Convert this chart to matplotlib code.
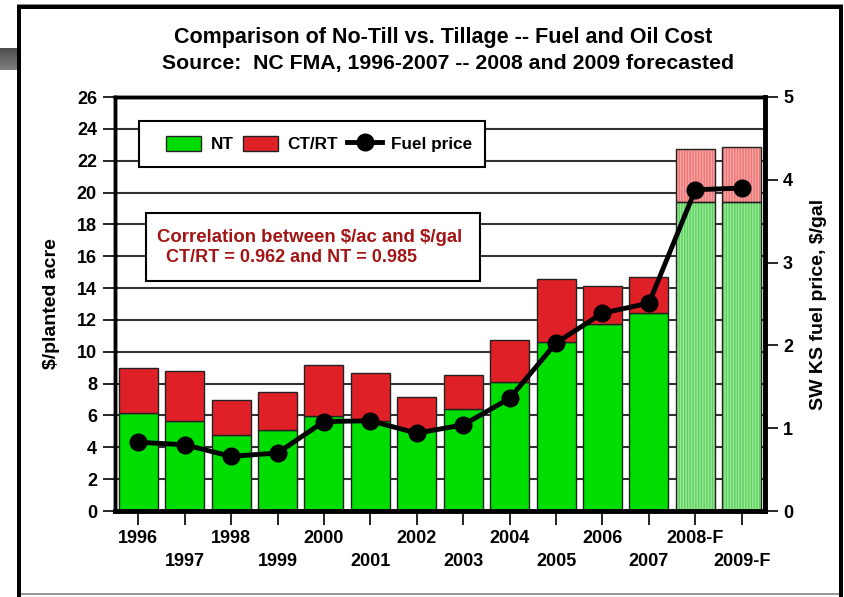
import numpy as np
import matplotlib
matplotlib.use("Agg")
import matplotlib.pyplot as plt
from matplotlib.patches import Patch, Rectangle
from matplotlib.lines import Line2D

plt.rcParams['font.family'] = ['Liberation Sans', 'DejaVu Sans']
plt.rcParams['font.weight'] = 'bold'
plt.rcParams['hatch.linewidth'] = 1.0

years = ["1996", "1997", "1998", "1999", "2000", "2001", "2002",
         "2003", "2004", "2005", "2006", "2007", "2008-F", "2009-F"]
nt_cost = [6.15, 5.65, 4.75, 5.1, 5.95, 5.65, 5.15,
           6.4, 8.1, 10.6, 11.75, 12.45, 19.4, 19.4]
total_cost = [9.0, 8.8, 7.0, 7.45, 9.15, 8.65, 7.15,
              8.55, 10.75, 14.6, 14.15, 14.7, 22.75, 22.85]
fuel_price = [0.83, 0.80, 0.66, 0.70, 1.08, 1.09, 0.94,
              1.04, 1.36, 2.03, 2.39, 2.51, 3.88, 3.90]
forecast = [False] * 12 + [True] * 2

ctrt_extra = [t - n for t, n in zip(total_cost, nt_cost)]

GREEN = "#00dd00"
RED = "#e02027"
GREEN_F = "#9be99b"
GREEN_F_LINE = "#5cd15c"
RED_F = "#f7a5a5"
RED_F_LINE = "#ec7575"

W, H = 844, 597
fig = plt.figure(figsize=(W / 100, H / 100), dpi=100)


def px_rect(x0, y0, x1, y1, **kw):
    # rectangle given in pixel coordinates measured from the top-left corner
    return Rectangle((x0 / W, 1 - y1 / H), (x1 - x0) / W, (y1 - y0) / H,
                     transform=fig.transFigure, **kw)


# slide frame
fig.add_artist(px_rect(17, 5, 21, 597, color="black", lw=0))
fig.add_artist(px_rect(17, 5, 843, 9, color="black", lw=0))
fig.add_artist(px_rect(17, 3.5, 843, 5, color="#888888", lw=0))
fig.add_artist(px_rect(839, 5, 843, 597, color="black", lw=0))
fig.add_artist(px_rect(21, 593, 839, 595, color="#999999", lw=0))
grad_ax = fig.add_axes([0, 1 - 70 / H, 17 / W, 22 / H])
grad_ax.imshow(np.linspace(0.3, 0.5, 50).reshape(-1, 1), cmap="gray", aspect="auto",
               vmin=0, vmax=1)
grad_ax.axis("off")

ax = fig.add_axes([115 / W, (H - 511) / H, 650 / W, 414 / H])
x = np.arange(len(years))
width = 0.84

for i in x:
    if forecast[i]:
        ax.bar(i, nt_cost[i], width, color=GREEN_F, edgecolor="none", zorder=2)
        ax.bar(i, nt_cost[i], width, fill=False, edgecolor=GREEN_F_LINE, lw=0,
               hatch="||||||", zorder=2)
        ax.bar(i, ctrt_extra[i], width, bottom=nt_cost[i], color=RED_F,
               edgecolor="none", zorder=2)
        ax.bar(i, ctrt_extra[i], width, bottom=nt_cost[i], fill=False,
               edgecolor=RED_F_LINE, lw=0, hatch="||||||", zorder=2)
        ax.bar(i, nt_cost[i], width, fill=False, edgecolor="#222222", lw=1, zorder=2)
        ax.bar(i, ctrt_extra[i], width, bottom=nt_cost[i], fill=False,
               edgecolor="#222222", lw=1, zorder=2)
    else:
        ax.bar(i, nt_cost[i], width, color=GREEN, edgecolor="#222222", lw=1, zorder=2)
        ax.bar(i, ctrt_extra[i], width, bottom=nt_cost[i], color=RED,
               edgecolor="#222222", lw=1, zorder=2)

ax.set_xlim(-0.5, len(years) - 0.5)
ax.set_ylim(0, 26)
ax.set_yticks(np.arange(0, 27, 2))
for yv in np.arange(2, 26, 2):
    ax.axhline(yv, color="#333333", lw=1.5, zorder=1)

# staggered year labels: even years on the major ticks, odd years on minor ticks
ax.set_xticks(x[::2])
ax.set_xticklabels(years[::2], fontsize=13, fontweight="bold")
ax.set_xticks(x[1::2], minor=True)
ax.set_xticklabels(years[1::2], minor=True, fontsize=13, fontweight="bold")
ax.tick_params(axis="x", which="both", direction="out", length=10, width=1.2)
ax.tick_params(axis="x", which="major", pad=4)
ax.tick_params(axis="x", which="minor", pad=20)
ax.tick_params(axis="y", direction="out", length=9, width=1.2, pad=4,
               labelsize=13)
for lab in ax.get_yticklabels():
    lab.set_fontweight("bold")
ax.set_ylabel("\\$/planted acre", fontsize=14, fontweight="bold", labelpad=12)

for s in ax.spines.values():
    s.set_linewidth(2.5)
ax.spines["bottom"].set_linewidth(3.5)

ax2 = ax.twinx()
ax2.set_ylim(0, 5)
ax2.set_yticks(np.arange(0, 6, 1))
ax2.plot(x, fuel_price, color="black", lw=3.5, marker="o", markersize=12,
         zorder=5, clip_on=False)
ax2.tick_params(axis="y", direction="out", length=9, width=1.2, pad=4,
                labelsize=13)
for lab in ax2.get_yticklabels():
    lab.set_fontweight("bold")
ax2.set_ylabel("SW KS fuel price, \\$/gal", fontsize=14, fontweight="bold",
               labelpad=12)
for s in ax2.spines.values():
    s.set_linewidth(2.5)
ax2.spines["right"].set_linewidth(3.5)

# legend: frame drawn separately so its size is fixed
fig.add_artist(px_rect(139, 121, 485, 167, facecolor="white", edgecolor="black",
                       lw=1.5, zorder=6))
handles = [Patch(facecolor=GREEN, edgecolor="#222222", lw=1),
           Patch(facecolor=RED, edgecolor="#222222", lw=1),
           Line2D([], [], color="black", lw=3.5, marker="o", markersize=12)]
leg = fig.legend(handles, ["NT", "CT/RT", "Fuel price"], ncol=3, loc="center left",
                 bbox_to_anchor=(166 / W, 1 - 144 / H), bbox_transform=fig.transFigure,
                 frameon=False, prop={"weight": "bold", "size": 12.3},
                 handlelength=2.05, handleheight=1.05, columnspacing=0.55,
                 handletextpad=0.55, borderpad=0, borderaxespad=0)
leg.set_zorder(7)

# correlation note
fig.add_artist(px_rect(146, 213, 480, 281, facecolor="white", edgecolor="black",
                       lw=1.5, zorder=6))
fig.text(157 / W, 1 - 237 / H, "Correlation between \\$/ac and \\$/gal",
         fontsize=13.4, fontweight="bold", color="#a31515", ha="left", va="center",
         zorder=7)
fig.text(166 / W, 1 - 258 / H, "CT/RT = 0.962 and NT = 0.985",
         fontsize=13, fontweight="bold", color="#a31515", ha="left", va="center",
         zorder=7)

fig.text(443 / W, 1 - 38 / H, "Comparison of No-Till vs. Tillage -- Fuel and Oil Cost",
         ha="center", va="center", fontsize=15.5, fontweight="bold")
fig.text(448 / W, 1 - 63 / H, "Source:  NC FMA, 1996-2007 -- 2008 and 2009 forecasted",
         ha="center", va="center", fontsize=15.3, fontweight="bold")

fig.savefig("out.png", dpi=100)
